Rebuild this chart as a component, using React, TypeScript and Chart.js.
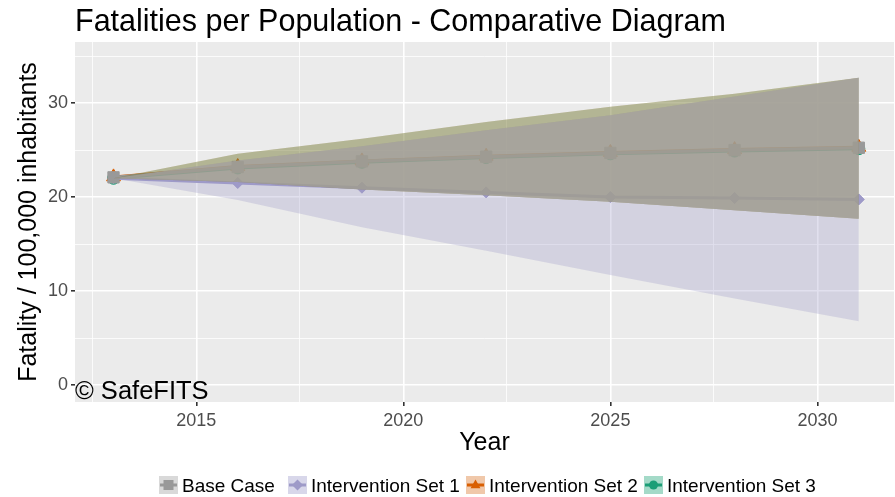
import React, { useEffect, useRef } from "react";
import { Chart, registerables } from "chart.js";

Chart.register(...registerables);

// ---- Data ----
const years = [2013, 2016, 2019, 2022, 2025, 2028, 2031];

const baseCase = [22.1, 23.2, 23.8, 24.3, 24.7, 25.0, 25.25];
const set1 = [22.0, 21.5, 21.0, 20.5, 20.0, 19.9, 19.75];
const set2 = [22.15, 23.25, 23.85, 24.35, 24.75, 25.05, 25.3];
const set3 = [22.0, 23.1, 23.7, 24.2, 24.6, 24.9, 25.15];

const baseLower = [22.0, 21.6, 20.8, 20.2, 19.5, 18.6, 17.7];
const baseUpper = [22.0, 23.9, 25.4, 27.1, 28.7, 30.7, 32.7];
const set1Lower = [22.0, 19.7, 16.8, 14.3, 11.7, 9.2, 6.8];
const set1Upper = [22.0, 23.9, 25.4, 27.1, 28.7, 30.7, 32.7];
const set2Lower = [22.0, 21.6, 20.8, 20.2, 19.5, 18.6, 17.7];
const set2Upper = [22.0, 24.6, 26.2, 28.0, 29.6, 31.0, 32.7];
const set3Lower = [22.0, 21.6, 20.8, 20.2, 19.5, 18.6, 17.7];
const set3Upper = [22.0, 24.6, 26.2, 28.0, 29.6, 31.0, 32.7];

const xTickValues = [2012.5, 2015, 2017.5, 2020, 2022.5, 2025, 2027.5, 2030];
const yTickValues = [0, 5, 10, 15, 20, 25, 30, 35];

const seriesLabels = ["Base Case", "Intervention Set 1", "Intervention Set 2", "Intervention Set 3"];

const titleText = "Fatalities per Population - Comparative Diagram";
const xTitle = "Year";
const yTitle = "Fatality / 100,000 inhabitants";
const watermark = "\u00A9 SafeFITS";

const FONT = '"Liberation Sans", Arial, sans-serif';

const legendStyles = [
  { bg: "#D9D9D9", color: "#999999", shape: "rect", x: 159 },
  { bg: "#D8D7EA", color: "#9E9AC8", shape: "diamond", x: 288 },
  { bg: "#F0C8AA", color: "#D95F02", shape: "triangle", x: 466 },
  { bg: "#A4DAC8", color: "#1B9E77", shape: "circle", x: 644 },
];

function drawShape(ctx: CanvasRenderingContext2D, shape: string, x: number, y: number, r: number) {
  ctx.beginPath();
  if (shape === "rect") {
    ctx.rect(x - r, y - r, 2 * r, 2 * r);
  } else if (shape === "diamond") {
    ctx.moveTo(x, y - r);
    ctx.lineTo(x + r, y);
    ctx.lineTo(x, y + r);
    ctx.lineTo(x - r, y);
    ctx.closePath();
  } else if (shape === "triangle") {
    ctx.moveTo(x, y - r);
    ctx.lineTo(x + r * 0.9, y + r * 0.6);
    ctx.lineTo(x - r * 0.9, y + r * 0.6);
    ctx.closePath();
  } else {
    ctx.arc(x, y, r, 0, Math.PI * 2);
  }
  ctx.fill();
}

const decorPlugin = {
  id: "decor",
  beforeDraw(chart: any) {
    const { ctx, chartArea: a } = chart;
    ctx.save();
    ctx.fillStyle = "#EBEBEB";
    ctx.fillRect(a.left, a.top, a.right - a.left, a.bottom - a.top);
    ctx.restore();
  },
  afterDraw(chart: any) {
    const { ctx, chartArea: a } = chart;
    ctx.save();
    ctx.fillStyle = "#000000";
    ctx.textBaseline = "alphabetic";

    // Title
    ctx.font = `30.5px ${FONT}`;
    ctx.textAlign = "left";
    ctx.fillText(titleText, a.left, 31);

    // Watermark
    ctx.font = `25.5px ${FONT}`;
    ctx.fillText(watermark, a.left, 399);

    // X title
    ctx.textAlign = "center";
    ctx.font = `25px ${FONT}`;
    ctx.fillText(xTitle, (a.left + a.right) / 2, 450);

    // Y title
    ctx.save();
    ctx.translate(36, (a.top + a.bottom) / 2);
    ctx.rotate(-Math.PI / 2);
    ctx.fillText(yTitle, 0, 0);
    ctx.restore();

    // Legend
    ctx.font = `19px ${FONT}`;
    ctx.textAlign = "left";
    const keyW = 19;
    const keyH = 18;
    const keyTop = 476;
    const cy = keyTop + keyH / 2;
    seriesLabels.forEach((label, i) => {
      const st = legendStyles[i];
      const x = st.x;
      ctx.fillStyle = st.bg;
      ctx.fillRect(x, keyTop, keyW, keyH);
      ctx.strokeStyle = st.color;
      ctx.lineWidth = 3;
      ctx.beginPath();
      ctx.moveTo(x + 1, cy);
      ctx.lineTo(x + keyW - 1, cy);
      ctx.stroke();
      ctx.fillStyle = st.color;
      const r = st.shape === "rect" ? 5 : st.shape === "circle" ? 4.5 : 5.5;
      drawShape(ctx, st.shape, x + keyW / 2, cy, r);
      ctx.fillStyle = "#000000";
      ctx.fillText(label, x + keyW + 4, 492);
    });
    ctx.restore();
  },
};

export default function App() {
  const ref = useRef<HTMLCanvasElement>(null);

  useEffect(() => {
    const canvas = ref.current;
    if (!canvas) return;
    const pts = (vals: number[]) => years.map((x, i) => ({ x, y: vals[i] }));

    const ribbon = (lower: number[], upper: number[], fill: string, order: number) => [
      {
        label: "lower",
        data: pts(lower),
        borderColor: "transparent",
        borderWidth: 0,
        pointRadius: 0,
        fill: false,
        order,
      },
      {
        label: "upper",
        data: pts(upper),
        borderColor: "transparent",
        borderWidth: 0,
        pointRadius: 0,
        fill: "-1",
        backgroundColor: fill,
        order,
      },
    ];

    const line = (vals: number[], color: string, style: string, radius: number, order: number, label: string) => ({
      label,
      data: pts(vals),
      borderColor: color,
      borderWidth: 3,
      backgroundColor: color,
      pointStyle: style,
      pointRadius: radius,
      pointBackgroundColor: color,
      pointBorderColor: color,
      pointBorderWidth: 1,
      fill: false,
      tension: 0,
      order,
    });

    const datasets: any[] = [
      line(set3, "#1B9E77", "circle", 6, 13, seriesLabels[3]),
      line(set2, "#D95F02", "triangle", 8, 12, seriesLabels[2]),
      line(set1, "#9E9AC8", "rectRot", 5.5, 11, seriesLabels[1]),
      line(baseCase, "#999999", "rect", 8, 10, seriesLabels[0]),
      ...ribbon(set1Lower, set1Upper, "rgba(158,154,200,0.31)", 4),
      ...ribbon(set2Lower, set2Upper, "rgba(217,95,2,0.33)", 3),
      ...ribbon(set3Lower, set3Upper, "rgba(27,158,119,0.24)", 2),
      ...ribbon(baseLower, baseUpper, "rgba(166,162,161,0.7)", 1),
    ];

    const isMajorX = (v: number) => Math.abs(v % 5) < 1e-6;
    const isMajorY = (v: number) => Math.abs(v % 10) < 1e-6;

    const chart = new Chart(canvas, {
      type: "line",
      data: { datasets },
      plugins: [decorPlugin],
      options: {
        responsive: false,
        animation: false,
        events: [],
        devicePixelRatio: 1,
        layout: { autoPadding: false, padding: { top: 42, right: 1, left: 0, bottom: 0 } },
        plugins: {
          legend: { display: false },
          title: { display: false },
          tooltip: { enabled: false },
        },
        scales: {
          x: {
            type: "linear",
            min: 2012.07,
            max: 2031.85,
            afterBuildTicks: (s: any) => {
              s.ticks = xTickValues.map((v) => ({ value: v }));
            },
            afterFit: (s: any) => {
              s.height = 95;
            },
            ticks: {
              autoSkip: false,
              maxRotation: 0,
              padding: 4,
              color: "#4D4D4D",
              font: { size: 18, family: FONT },
              callback: (v: any) => (isMajorX(Number(v)) ? String(v) : ""),
            },
            grid: {
              color: "#FFFFFF",
              lineWidth: (c: any) => (c.tick && isMajorX(c.tick.value) ? 1.6 : 0.8),
              tickColor: (c: any) => (c.tick && isMajorX(c.tick.value) ? "#333333" : "rgba(0,0,0,0)"),
              tickLength: 4,
              drawTicks: true,
            },
            border: { display: false },
          },
          y: {
            type: "linear",
            min: -1.8,
            max: 36.5,
            afterBuildTicks: (s: any) => {
              s.ticks = yTickValues.map((v) => ({ value: v }));
            },
            afterFit: (s: any) => {
              s.width = 75;
            },
            ticks: {
              autoSkip: false,
              padding: 3,
              color: "#4D4D4D",
              font: { size: 18, family: FONT },
              callback: (v: any) => (isMajorY(Number(v)) ? String(v) : ""),
            },
            grid: {
              color: "#FFFFFF",
              lineWidth: (c: any) => (c.tick && isMajorY(c.tick.value) ? 1.6 : 0.8),
              tickColor: (c: any) => (c.tick && isMajorY(c.tick.value) ? "#333333" : "rgba(0,0,0,0)"),
              tickLength: 4,
              drawTicks: true,
            },
            border: { display: false },
          },
        },
      } as any,
    });

    return () => chart.destroy();
  }, []);

  return (
    <div style={{ position: "absolute", left: 0, top: 0, width: 895, height: 497, background: "#FFFFFF" }}>
      <canvas ref={ref} width={895} height={497} style={{ display: "block" }} />
    </div>
  );
}
